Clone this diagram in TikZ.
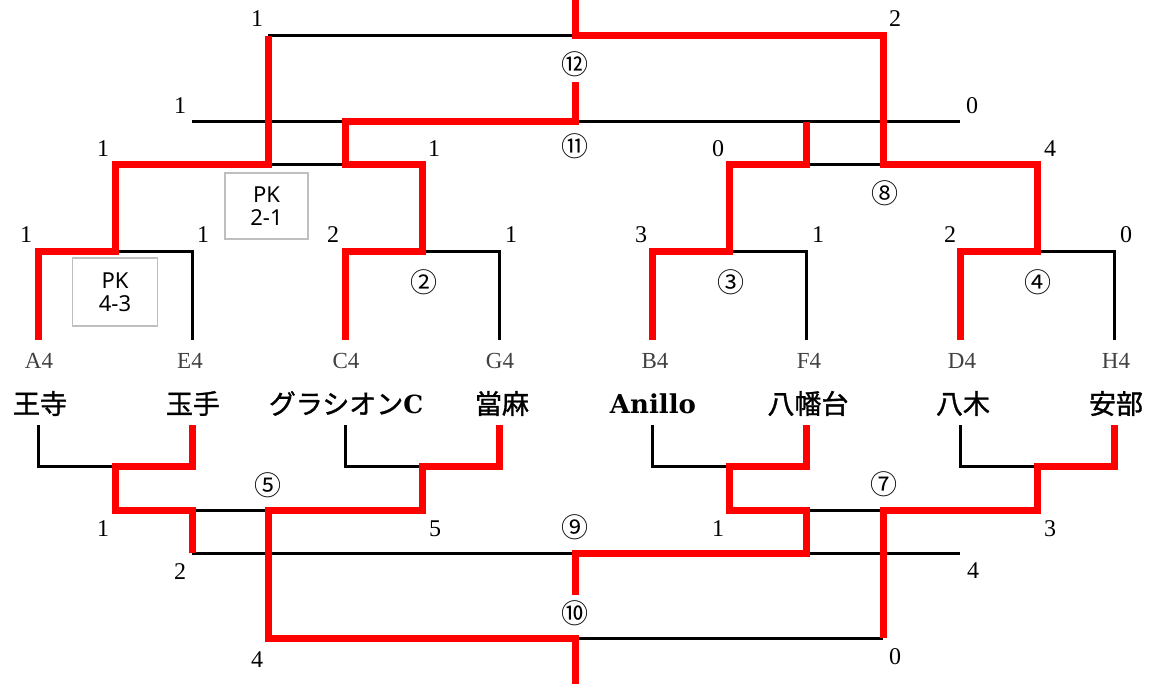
\documentclass[tikz,border=0pt]{standalone}
\usepackage{fontspec}
\setmainfont{Liberation Serif}
\newfontfamily\cjk{Noto Sans CJK JP}
\newfontfamily\cjkt[FakeBold=1.2]{Noto Sans CJK JP}
\newfontfamily\pkfont{Noto Sans}
\newfontfamily\latb{DejaVu Serif}
\definecolor{bred}{HTML}{FF0000}
\definecolor{pkgray}{HTML}{BFBFBF}
\definecolor{codegray}{HTML}{404040}
\begin{document}
\begin{tikzpicture}[x=1pt,y=-1pt,
  bk/.style={line width=3pt,draw=black,line join=miter},
  rd/.style={line width=7pt,draw=bred,line join=miter},
  sc/.style={inner sep=0pt,font=\fontsize{24}{24}\selectfont},
  cd/.style={inner sep=0pt,text=codegray,font=\fontsize{23}{23}\selectfont},
  tm/.style={inner sep=0pt,font=\cjkt\fontsize{27}{27}\selectfont},
  ci/.style={inner sep=0pt,font=\cjk\fontsize{27}{27}\selectfont},
  pk/.style={draw=pkgray,line width=1.6pt,inner sep=0pt,align=center,
    font=\pkfont\fontsize{22}{23}\selectfont,minimum width=83pt,minimum height=66pt}]
\useasboundingbox (0,0) rectangle (1149,684);
\foreach \x in {38,115,192,268,345,422,499,575,652,729,806,883,960,1037,1114}
  \foreach \y in {0,36,82,122,165,252,340,425,467,510,553,595,638,684}
    \coordinate (p\x-\y) at (\x,\y);
% black lines
\draw[bk] (p268-36) -- (p575-36);
\draw[bk] (p192-122) -- (p345-122) (p575-122) -- (p960-122);
\draw[bk] (p268-165) -- (p345-165) (p806-165) -- (p883-165);
\draw[bk] (p115-252) -- (p192-252) -- (p192-340);
\draw[bk] (p422-252) -- (p499-252) -- (p499-340);
\draw[bk] (p729-252) -- (p806-252) -- (p806-340);
\draw[bk] (p1037-252) -- (p1114-252) -- (p1114-340);
\draw[bk] (p38-425) -- (p38-467) -- (p115-467);
\draw[bk] (p345-425) -- (p345-467) -- (p422-467);
\draw[bk] (p652-425) -- (p652-467) -- (p729-467);
\draw[bk] (p960-425) -- (p960-467) -- (p1037-467);
\draw[bk] (p192-510) -- (p268-510) (p806-510) -- (p883-510);
\draw[bk] (p192-553) -- (p575-553) (p806-553) -- (p960-553);
\draw[bk] (p575-638) -- (p883-638);
% red lines
\draw[rd] (p575-0) -- (p575-36) -- (p883-36) -- (p883-165) -- (p1037-165) -- (p1037-252) -- (p960-252) -- (p960-340);
\draw[rd] (p268-36) -- (p268-165) -- (p115-165) -- (p115-252) -- (p38-252) -- (p38-340);
\draw[rd] (p575-82) -- (p575-122) -- (p345-122) -- (p345-165) -- (p422-165) -- (p422-252) -- (p345-252) -- (p345-340);
\draw[rd] (p806-122) -- (p806-165) -- (p729-165) -- (p729-252) -- (p652-252) -- (p652-340);
\draw[rd] (p192-425) -- (p192-467) -- (p115-467) -- (p115-510) -- (p192-510) -- (p192-553);
\draw[rd] (p499-425) -- (p499-467) -- (p422-467) -- (p422-510) -- (p268-510) -- (p268-638) -- (p575-638) -- (p575-684);
\draw[rd] (p806-425) -- (p806-467) -- (p729-467) -- (p729-510) -- (p806-510) -- (p806-553) -- (p575-553) -- (p575-595);
\draw[rd] (p1114-425) -- (p1114-467) -- (p1037-467) -- (p1037-510) -- (p883-510) -- (p883-638);
% scores top
\node[sc] (t1) at (257,18.5) {1};
\node[sc] (t2) at (895,18.5) {2};
\node[sc] (t3) at (180,106) {1};
\node[sc] (t4) at (972,106) {0};
\node[sc] (t5) at (103,148.5) {1};
\node[sc] (t6) at (434,148.5) {1};
\node[sc] (t7) at (718,148.5) {0};
\node[sc] (t8) at (1050,148.5) {4};
\node[sc] (r1) at (26,235) {1};
\node[sc] (r2) at (203,235) {1};
\node[sc] (r3) at (333,235) {2};
\node[sc] (r4) at (511,235) {1};
\node[sc] (r5) at (641,235) {3};
\node[sc] (r6) at (818,235) {1};
\node[sc] (r7) at (950,235) {2};
\node[sc] (r8) at (1126,235) {0};
% scores bottom
\node[sc] (b1) at (103,528.5) {1};
\node[sc] (b2) at (435,528.5) {5};
\node[sc] (b3) at (718,528.5) {1};
\node[sc] (b4) at (1050,528.5) {3};
\node[sc] (b5) at (180,572) {2};
\node[sc] (b6) at (973,571) {4};
\node[sc] (b7) at (257,660) {4};
\node[sc] (b8) at (895,657) {0};
% match numbers
\node[ci] (m12) at (575,64) {⑫};
\node[ci] (m11) at (575,146) {⑪};
\node[ci] (m8) at (885,193.5) {⑧};
\node[ci] (m2) at (423.5,282) {②};
\node[ci] (m3) at (731,282) {③};
\node[ci] (m4) at (1038,282) {④};
\node[ci] (m5) at (268,485) {⑤};
\node[ci] (m7) at (884,484) {⑦};
\node[ci] (m9) at (575,527) {⑨};
\node[ci] (m10) at (575,613) {⑩};
% PK boxes
\node[pk] (pk1) at (266.5,206) {PK\\2-1};
\node[pk,minimum width=85pt,minimum height=68pt] (pk2) at (115,292) {PK\\4-3};
% codes
\node[cd] (c1) at (39,361) {A4};
\node[cd] (c2) at (190,361) {E4};
\node[cd] (c3) at (346,361) {C4};
\node[cd] (c4) at (500,361) {G4};
\node[cd] (c5) at (655,361) {B4};
\node[cd] (c6) at (809,361) {F4};
\node[cd] (c7) at (962,361) {D4};
\node[cd] (c8) at (1116,361) {H4};
% teams
\node[tm] (n1) at (40,403.5) {王寺};
\node[tm] (n2) at (193,403.5) {玉手};
\node[tm] (n3) at (346,403.5) {グラシオン{\latb\bfseries\fontsize{25}{25}\selectfont C}};
\node[tm] (n4) at (502,403.5) {當麻};
\node[tm] (n5) at (653,403.5) {\latb\bfseries\fontsize{26}{26}\selectfont Anillo};
\node[tm] (n6) at (808,403.5) {八幡台};
\node[tm] (n7) at (963,403.5) {八木};
\node[tm] (n8) at (1116,403.5) {安部};
\end{tikzpicture}
\end{document}
